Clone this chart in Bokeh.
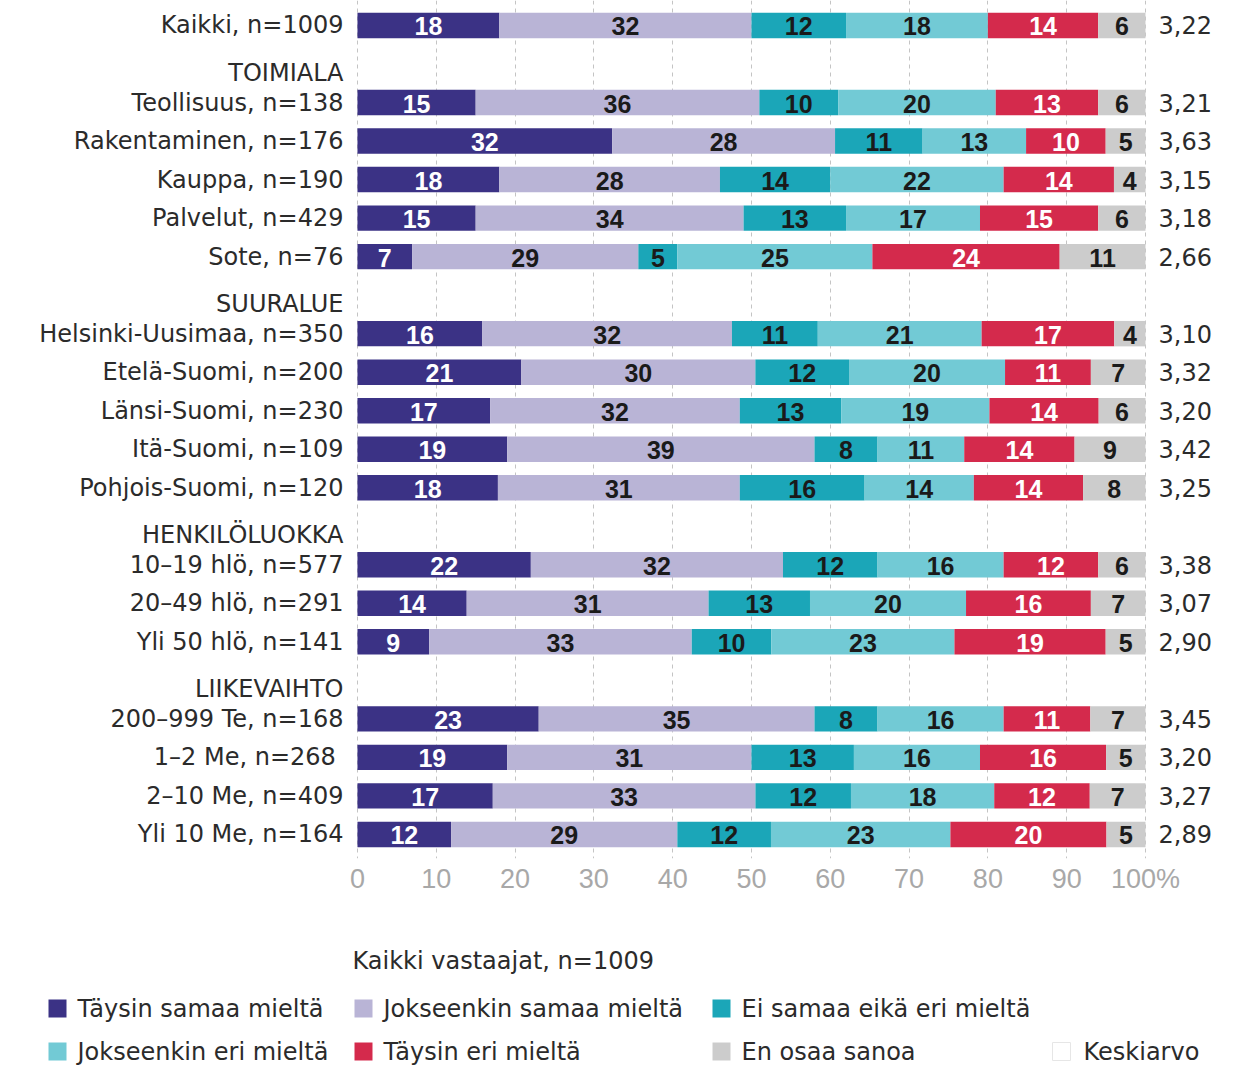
from bokeh.plotting import figure
from bokeh.models import Range1d, FixedTicker, ColumnDataSource
from bokeh.layouts import column
from bokeh.embed import file_html
from bokeh.resources import INLINE
from bokeh.core.properties import value

# ---------------- data ----------------
series = ["Täysin samaa mieltä", "Jokseenkin samaa mieltä", "Ei samaa eikä eri mieltä",
          "Jokseenkin eri mieltä", "Täysin eri mieltä", "En osaa sanoa"]
mean_label = "Keskiarvo"
subtitle = "Kaikki vastaajat, n=1009"

group_headers = [None, "TOIMIALA", "SUURALUE", "HENKILÖLUOKKA", "LIIKEVAIHTO"]
group_sizes = [1, 5, 5, 3, 4]

categories = ["Kaikki, n=1009",
              "Teollisuus, n=138", "Rakentaminen, n=176", "Kauppa, n=190", "Palvelut, n=429", "Sote, n=76",
              "Helsinki-Uusimaa, n=350", "Etelä-Suomi, n=200", "Länsi-Suomi, n=230", "Itä-Suomi, n=109",
              "Pohjois-Suomi, n=120",
              "10–19 hlö, n=577", "20–49 hlö, n=291", "Yli 50 hlö, n=141",
              "200–999 Te, n=168", "1–2  Me, n=268", "2–10 Me, n=409", "Yli 10 Me, n=164"]

taysin_samaa = [18, 15, 32, 18, 15, 7, 16, 21, 17, 19, 18, 22, 14, 9, 23, 19, 17, 12]
jokseenkin_samaa = [32, 36, 28, 28, 34, 29, 32, 30, 32, 39, 31, 32, 31, 33, 35, 31, 33, 29]
ei_samaa_eika_eri = [12, 10, 11, 14, 13, 5, 11, 12, 13, 8, 16, 12, 13, 10, 8, 13, 12, 12]
jokseenkin_eri = [18, 20, 13, 22, 17, 25, 21, 20, 19, 11, 14, 16, 20, 23, 16, 16, 18, 23]
taysin_eri = [14, 13, 10, 14, 15, 24, 17, 11, 14, 14, 14, 12, 16, 19, 11, 16, 12, 20]
en_osaa = [6, 6, 5, 4, 6, 11, 4, 7, 6, 9, 8, 6, 7, 5, 7, 5, 7, 5]
means = [3.22, 3.21, 3.63, 3.15, 3.18, 2.66, 3.10, 3.32, 3.20, 3.42, 3.25,
         3.38, 3.07, 2.90, 3.45, 3.20, 3.27, 2.89]

x_ticks = [0, 10, 20, 30, 40, 50, 60, 70, 80, 90, 100]

# ---------------- styles ----------------
colors = ["#3b3285", "#b9b4d6", "#1ba6b8", "#72cad5", "#d42a4c", "#cccccc"]
value_text_colors = ["#ffffff", "#1a1a1a", "#1a1a1a", "#1a1a1a", "#ffffff", "#1a1a1a"]
LABEL_FONT = "DejaVu Sans"
VALUE_FONT = "Liberation Sans"
LABEL_SIZE = "24px"

all_series = [taysin_samaa, jokseenkin_samaa, ei_samaa_eika_eri, jokseenkin_eri, taysin_eri, en_osaa]

# row positions (header rows take a slot)
row_y = []
header_y = []
header_txt = []
slot = 0
for h, n in zip(group_headers, group_sizes):
    if h is not None:
        header_y.append(slot)
        header_txt.append(h)
        slot += 1
    for _ in range(n):
        row_y.append(slot)
        slot += 1

W = 1233
TOP_H = 908
LEG_H = 158

p = figure(width=W, height=TOP_H, output_backend="svg", toolbar_location=None,
           x_range=Range1d(-45.30, 111.17), y_range=Range1d(21.625, -0.649),
           min_border_left=0, min_border_right=0, min_border_top=0, min_border_bottom=50,
           y_axis_location=None, x_axis_location="below")
p.outline_line_color = None
p.background_fill_color = "white"
p.border_fill_color = "white"

# grid
p.ygrid.visible = False
p.xgrid.ticker = FixedTicker(ticks=x_ticks)
p.xgrid.grid_line_color = "#c4c4c4"
p.xgrid.grid_line_dash = "4 4"
p.xgrid.grid_line_width = 1

# axis
ax = p.xaxis[0]
ax.ticker = FixedTicker(ticks=x_ticks)
ax.major_label_overrides = {100: "100%"}
ax.axis_line_color = None
ax.major_tick_line_color = None
ax.minor_tick_line_color = None
ax.major_tick_out = 0
ax.major_label_standoff = 5
ax.major_label_text_font = "Liberation Sans"
ax.major_label_text_font_size = "27px"
ax.major_label_text_color = "#a8a8a8"

# bars
for s_i, vals in enumerate(all_series):
    lefts, rights, ys, labs, cx = [], [], [], [], []
    for r in range(len(categories)):
        row_vals = [ser[r] for ser in all_series]
        tot = sum(row_vals)
        left = sum(row_vals[:s_i]) * 100.0 / tot
        right = left + vals[r] * 100.0 / tot
        lefts.append(left)
        rights.append(right)
        ys.append(row_y[r])
        labs.append(str(vals[r]))
        cx.append((left + right) / 2)
    src = ColumnDataSource(dict(left=lefts, right=rights, y=ys, lab=labs, cx=cx))
    p.hbar(y="y", left="left", right="right", height=0.66, source=src,
           fill_color=colors[s_i], line_color=None)
    p.text(x="cx", y="y", text="lab", source=src, text_align="center", text_baseline="middle",
           text_font=value(VALUE_FONT), text_font_style="bold", text_font_size="25px",
           text_color=value_text_colors[s_i], y_offset=1)

# category labels
p.text(x=[0] * len(categories), y=row_y, text=categories, text_align="right", text_baseline="middle",
       x_offset=-14, text_font=value(LABEL_FONT), text_font_size=LABEL_SIZE, text_color="#2b2b2b")
# group headers
p.text(x=[0] * len(header_txt), y=header_y, text=header_txt, text_align="right", text_baseline="middle",
       x_offset=-14, y_offset=9, text_font=value(LABEL_FONT), text_font_size=LABEL_SIZE, text_color="#2b2b2b")
# means
mean_txt = [f"{m:.2f}".replace(".", ",") for m in means]
p.text(x=[100] * len(means), y=row_y, text=mean_txt, text_align="left", text_baseline="middle",
       x_offset=13, text_font=value(LABEL_FONT), text_font_size=LABEL_SIZE, text_color="#2b2b2b")

# ---------------- legend figure ----------------
lg = figure(width=W, height=LEG_H, output_backend="svg", toolbar_location=None,
            x_range=Range1d(0, W), y_range=Range1d(LEG_H, 0),
            min_border_left=0, min_border_right=0, min_border_top=0, min_border_bottom=0,
            x_axis_location=None, y_axis_location=None)
lg.outline_line_color = None
lg.xgrid.visible = False
lg.ygrid.visible = False
lg.border_fill_color = "white"

lg.text(x=[352], y=[52], text=[subtitle], text_align="left", text_baseline="middle",
        text_font=value(LABEL_FONT), text_font_size=LABEL_SIZE, text_color="#2b2b2b")

leg_pos = [(57, 100), (363, 100), (721, 100), (57, 143), (363, 143), (721, 143)]
mx = [q[0] for q in leg_pos]
my = [q[1] for q in leg_pos]
lg.scatter(x=mx, y=my, marker="square", size=18, fill_color=colors, line_color=None)
lg.text(x=[v + 20 for v in mx], y=my, text=series, text_align="left", text_baseline="middle",
        text_font=value(LABEL_FONT), text_font_size=LABEL_SIZE, text_color="#2b2b2b")
lg.scatter(x=[1061], y=[143], marker="square", size=18, fill_color="white", line_color="#e6e6e6")
lg.text(x=[1083], y=[143], text=[mean_label], text_align="left", text_baseline="middle",
        text_font=value(LABEL_FONT), text_font_size=LABEL_SIZE, text_color="#2b2b2b")

layout = column(p, lg, spacing=0)
open("out.html", "w").write(file_html(layout, INLINE))
